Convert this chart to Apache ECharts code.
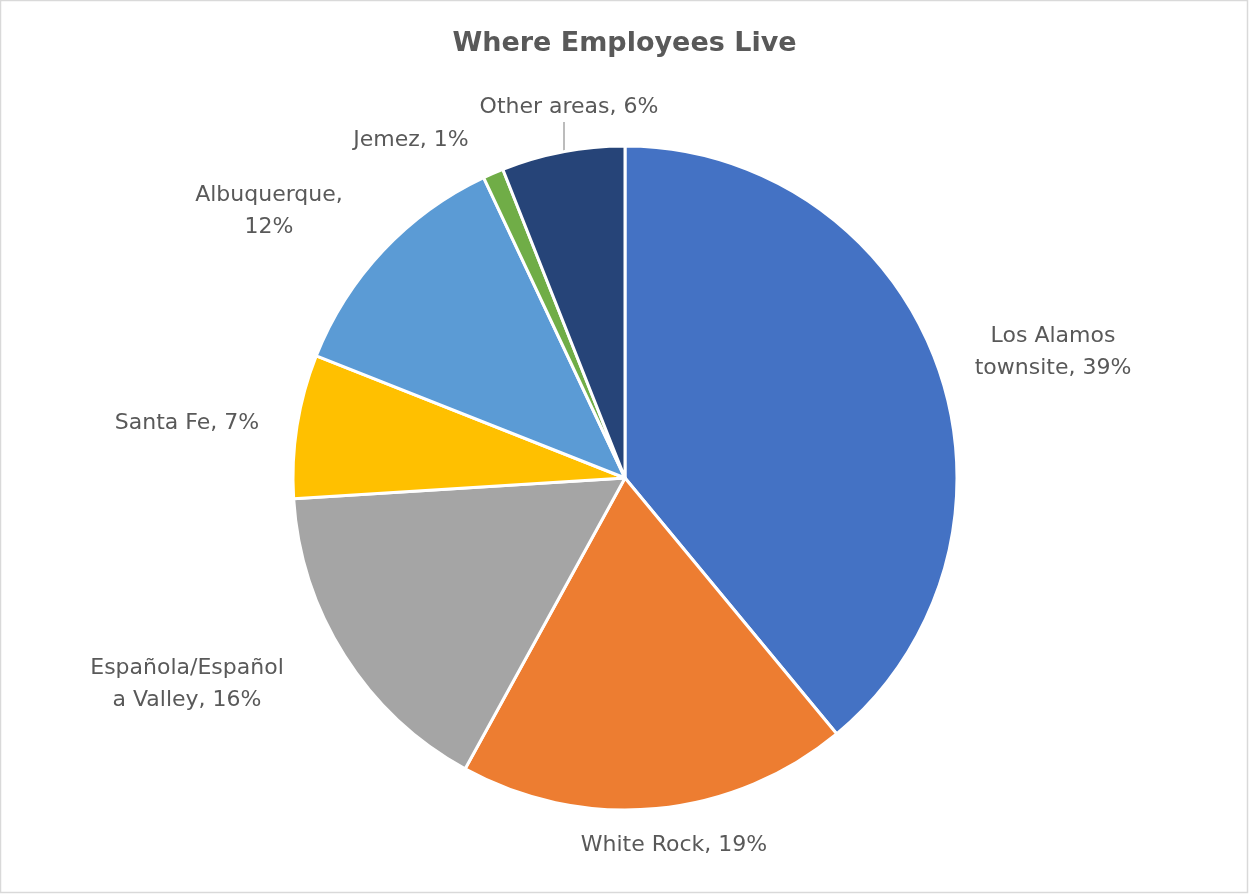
<!DOCTYPE html>
<html>
<head>
<meta charset="utf-8">
<script src="https://cdn.jsdelivr.net/npm/echarts@6/dist/echarts.min.js"></script>
<style>
  html, body { margin: 0; padding: 0; background: #fff; }
  #chart { width: 1249px; height: 894px; }
</style>
</head>
<body>
<div id="chart"></div>
<script>
// Share of employees by place of residence (percent)
const categories = [
  'Los Alamos\ntownsite',
  'White Rock',
  'Española/Español\na Valley',
  'Santa Fe',
  'Albuquerque',
  'Jemez',
  'Other areas'
];
const shares = [39, 19, 16, 7, 12, 1, 6];
const colors = ['#4472C4', '#ED7D31', '#A5A5A5', '#FFC000', '#5B9BD5', '#70AD47', '#264478'];
// label text line break before the percent for these entries
const breakBeforeValue = [false, false, false, false, true, false, false];

// label centres, offset from the pie centre
const labelOffsets = [
  [428, -126], [49, 367], [-438, 206], [-438, -55], [-356, -267], [-214, -338], [-56, -371]
];

const CX = 625, CY = 478, R = 332;
const FONT = '"Century Gothic", "DejaVu Sans", sans-serif';

const chart = echarts.init(document.getElementById('chart'), null, { renderer: 'canvas' });

chart.setOption({
  backgroundColor: '#ffffff',
  animation: false,
  title: {
    text: 'Where Employees Live',
    left: 'center',
    top: 25,
    textStyle: { fontFamily: FONT, fontSize: 27, fontWeight: 'bold', color: '#595959' }
  },
  graphic: [{
    type: 'rect',
    shape: { x: 0.5, y: 0.5, width: 1247, height: 892 },
    style: { fill: 'none', stroke: '#d9d9d9', lineWidth: 1.5 },
    silent: true
  }],
  series: [{
    type: 'pie',
    center: [CX, CY],
    radius: R,
    startAngle: 90,
    clockwise: true,
    data: categories.map((name, i) => ({
      name,
      value: shares[i],
      itemStyle: { color: colors[i] },
      labelLine: { show: i === 6 }
    })),
    itemStyle: { borderColor: '#ffffff', borderWidth: 3 },
    label: {
      show: true,
      position: 'outside',
      fontFamily: FONT,
      fontSize: 22,
      lineHeight: 32,
      color: '#595959',
      align: 'center',
      formatter: p => p.name + (breakBeforeValue[p.dataIndex] ? ',\n' : ', ') + p.value + '%'
    },
    labelLine: {
      show: false,
      lineStyle: { color: '#a6a6a6', width: 1.5 }
    },
    labelLayout: params => {
      const i = params.dataIndex;
      const x = CX + labelOffsets[i][0];
      const y = CY + labelOffsets[i][1];
      const out = { x, y, align: 'center', verticalAlign: 'middle' };
      if (i === 6) {
        const lx = CX - 61;
        const edgeY = CY - Math.sqrt(R * R - 61 * 61);
        out.labelLinePoints = [[lx, y + 15], [lx, edgeY], [lx, edgeY]];
      }
      return out;
    }
  }]
});
</script>
</body>
</html>
